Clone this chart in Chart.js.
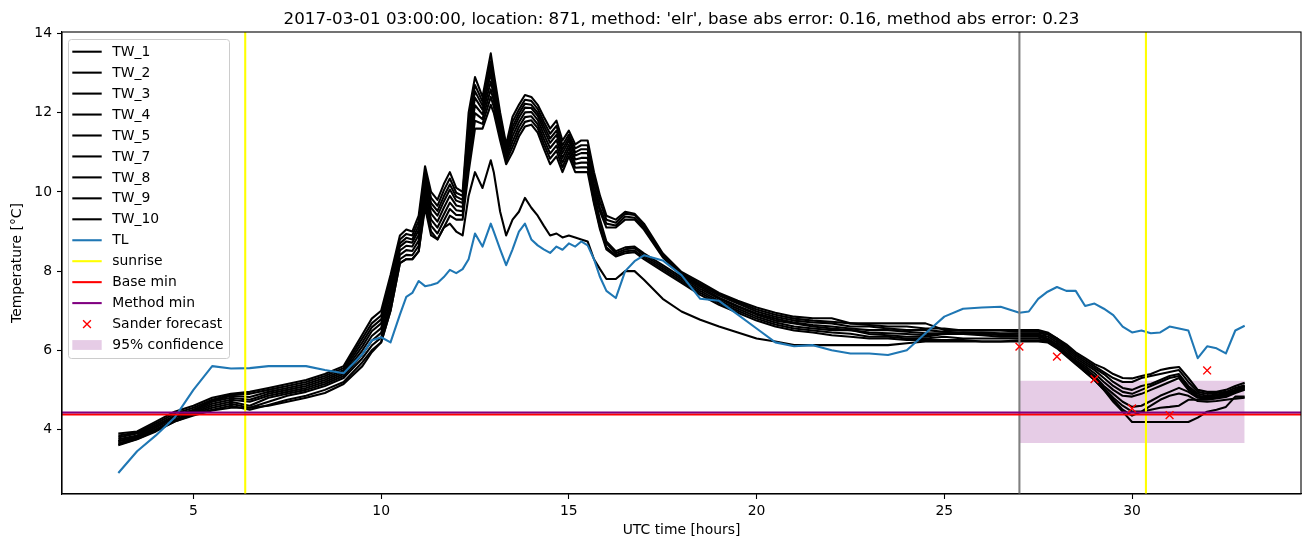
<!DOCTYPE html>
<html>
<head>
<meta charset="utf-8">
<script src="https://cdn.jsdelivr.net/npm/chart.js@4.4.1/dist/chart.umd.min.js"></script>
<style>
  html, body { margin: 0; padding: 0; background: #fff; }
  #wrap { width: 1310px; height: 547px; }
</style>
</head>
<body>
<div id="wrap"><canvas id="c" width="1310" height="547"></canvas></div>
<script>
// ---------- data ----------
const hours = [
  3, 3.5, 4, 4.5, 5, 5.5, 6, 6.5, 7, 7.5, 8, 8.5, 9, 9.5,
  9.75, 10, 10.25, 10.5, 10.67, 10.83, 11, 11.17, 11.33, 11.5, 11.67, 11.83, 12, 12.17, 12.33, 12.5, 12.7, 12.92, 13, 13.17,
  13.33, 13.5, 13.67, 13.83, 14, 14.17, 14.33, 14.5, 14.67, 14.83, 15, 15.17, 15.33, 15.5, 15.67, 15.83, 16, 16.25, 16.5, 16.75,
  17, 17.5, 18, 18.5, 19, 19.5, 20, 20.5, 21, 21.5, 22, 22.5, 23, 23.5, 24, 24.5, 25, 25.5, 26, 26.5, 27,
  27.25, 27.5, 27.75, 28, 28.25, 28.5, 28.75, 29, 29.25, 29.5, 29.75, 30, 30.25, 30.5, 30.75, 31, 31.25, 31.5, 31.75, 32, 32.25, 32.5, 32.75, 33
];

const TW_1 = [
  3.9, 3.95, 4.2, 4.45, 4.6, 4.8, 4.9, 4.95, 5.05, 5.15, 5.25, 5.4, 5.6, 6.4,
  6.8, 7.0, 7.9, 8.9, 9.05, 9.0, 9.4, 10.65, 10.0, 9.8, 10.2, 10.5, 10.1, 10.0, 12.0, 12.9, 12.4, 13.5, 13.0, 12.0,
  11.2, 11.9, 12.2, 12.45, 12.4, 12.2, 11.9, 11.6, 11.8, 11.3, 11.55, 11.2, 11.3, 11.3, 10.5, 9.9, 9.4, 9.3, 9.5, 9.45,
  9.2, 8.45, 7.98, 7.72, 7.45, 7.25, 7.08, 6.95, 6.85, 6.81, 6.81, 6.68, 6.68, 6.68, 6.68, 6.68, 6.51, 6.51, 6.51, 6.51, 6.51,
  6.51, 6.51, 6.45, 6.3, 6.15, 5.95, 5.8, 5.65, 5.55, 5.4, 5.3, 5.29, 5.35, 5.4, 5.5, 5.55, 5.58, 5.3, 5.0, 4.95, 4.95, 5.0, 5.1, 5.18
];
const TW_2 = [
  3.7, 3.82, 4.05, 4.3, 4.45, 4.65, 4.75, 4.7, 4.85, 4.95, 5.05, 5.2, 5.4, 6.0,
  6.36, 6.56, 7.41, 8.52, 8.64, 8.62, 8.91, 10.13, 9.45, 9.25, 9.6, 9.9, 9.66, 9.62, 11.18, 12.19, 11.96, 12.79, 12.45, 11.62,
  10.93, 11.41, 11.76, 12.01, 12.02, 11.82, 11.46, 11.11, 11.31, 10.86, 11.19, 10.82, 10.86, 10.86, 9.95, 9.3, 8.75, 8.5, 8.6, 8.62,
  8.45, 8.15, 7.85, 7.55, 7.3, 7.1, 6.9, 6.75, 6.68, 6.6, 6.55, 6.51, 6.45, 6.43, 6.41, 6.38, 6.43, 6.45, 6.43, 6.38, 6.38,
  6.38, 6.38, 6.3, 6.15, 5.95, 5.75, 5.6, 5.42, 5.2, 5.0, 4.85, 4.83, 4.9, 5.0, 5.1, 5.2, 5.3, 5.0, 4.82, 4.8, 4.82, 4.88, 4.98, 5.05
];
const TW_3 = [
  3.85, 3.92, 4.15, 4.4, 4.55, 4.75, 4.88, 4.9, 5.0, 5.1, 5.2, 5.35, 5.55, 6.3,
  6.68, 6.88, 7.77, 8.8, 8.94, 8.9, 9.27, 10.51, 9.85, 9.65, 10.04, 10.34, 9.98, 9.9, 11.78, 12.7, 12.28, 13.3, 12.85, 11.9,
  11.13, 11.77, 12.08, 12.33, 12.3, 12.1, 11.78, 11.47, 11.67, 11.18, 11.45, 11.1, 11.18, 11.18, 10.35, 9.75, 9.3, 9.22, 9.45, 9.42,
  9.15, 8.42, 7.95, 7.68, 7.42, 7.22, 7.03, 6.9, 6.8, 6.75, 6.72, 6.68, 6.64, 6.6, 6.6, 6.55, 6.55, 6.5, 6.5, 6.5, 6.47,
  6.47, 6.47, 6.43, 6.3, 6.1, 5.9, 5.75, 5.6, 5.45, 5.3, 5.2, 5.2, 5.3, 5.35, 5.4, 5.45, 5.5, 5.2, 4.95, 4.9, 4.92, 4.95, 5.05, 5.12
];
const TW_4 = [
  3.7, 3.8, 4.0, 4.25, 4.42, 4.6, 4.7, 4.6, 4.8, 4.9, 5.0, 5.15, 5.35, 5.9,
  6.24, 6.44, 7.27, 8.41, 8.53, 8.51, 8.77, 9.99, 9.3, 9.1, 9.43, 9.73, 9.54, 9.51, 10.95, 11.99, 11.84, 12.59, 12.3, 11.51,
  10.85, 11.27, 11.64, 11.89, 11.91, 11.71, 11.34, 10.97, 11.17, 10.74, 11.1, 10.71, 10.74, 10.74, 9.85, 9.2, 8.7, 8.45, 8.55, 8.58,
  8.4, 8.1, 7.8, 7.5, 7.25, 7.05, 6.85, 6.7, 6.6, 6.55, 6.51, 6.51, 6.41, 6.38, 6.34, 6.34, 6.41, 6.41, 6.38, 6.34, 6.34,
  6.34, 6.34, 6.28, 6.12, 5.92, 5.72, 5.55, 5.35, 5.1, 4.9, 4.7, 4.57, 4.6, 4.72, 4.85, 4.95, 5.05, 4.95, 4.8, 4.78, 4.8, 4.85, 4.95, 5.02
];
const TW_5 = [
  3.8, 3.9, 4.1, 4.35, 4.5, 4.72, 4.85, 4.82, 4.95, 5.05, 5.15, 5.3, 5.5, 6.2,
  6.58, 6.78, 7.65, 8.7, 8.84, 8.8, 9.15, 10.38, 9.72, 9.52, 9.89, 10.19, 9.88, 9.8, 11.58, 12.54, 12.18, 13.14, 12.72, 11.8,
  11.06, 11.65, 11.98, 12.23, 12.2, 12.0, 11.68, 11.35, 11.55, 11.08, 11.37, 11.0, 11.08, 11.08, 10.2, 9.6, 9.2, 9.15, 9.38, 9.35,
  9.1, 8.38, 7.92, 7.64, 7.38, 7.18, 6.98, 6.85, 6.75, 6.7, 6.68, 6.6, 6.6, 6.55, 6.51, 6.51, 6.47, 6.45, 6.45, 6.43, 6.43,
  6.43, 6.43, 6.4, 6.25, 6.05, 5.85, 5.7, 5.55, 5.4, 5.2, 5.05, 5.0, 5.1, 5.15, 5.25, 5.35, 5.4, 5.1, 4.9, 4.85, 4.88, 4.92, 5.0, 5.1
];
const TW_7 = [
  3.62, 3.76, 3.97, 4.2, 4.35, 4.48, 4.55, 4.55, 4.6, 4.7, 4.8, 4.92, 5.15, 5.6,
  5.95, 6.2, 7.0, 8.2, 8.3, 8.3, 8.5, 9.6, 8.9, 8.8, 9.1, 9.2, 9.0, 8.9, 9.9, 10.5, 10.1, 10.8, 10.5, 9.5,
  8.9, 9.3, 9.5, 9.85, 9.6, 9.4, 9.15, 8.9, 8.95, 8.85, 8.9, 8.85, 8.8, 8.75, 8.3, 8.05, 7.8, 7.8, 8.0, 8.0,
  7.78, 7.3, 6.98, 6.77, 6.6, 6.45, 6.3, 6.22, 6.13, 6.13, 6.13, 6.13, 6.13, 6.13, 6.18, 6.22, 6.22, 6.22, 6.22, 6.22, 6.22,
  6.22, 6.22, 6.2, 6.05, 5.85, 5.65, 5.45, 5.25, 5.0, 4.75, 4.5, 4.35, 4.45, 4.6, 4.75, 4.85, 4.91, 4.85, 4.72, 4.7, 4.72, 4.75, 4.78, 4.8
];
const TW_8 = [
  3.75, 3.85, 4.1, 4.32, 4.48, 4.7, 4.8, 4.75, 4.9, 5.0, 5.1, 5.25, 5.45, 6.1,
  6.48, 6.68, 7.54, 8.62, 8.75, 8.72, 9.04, 10.27, 9.6, 9.4, 9.76, 10.06, 9.78, 9.72, 11.4, 12.38, 12.08, 12.98, 12.6, 11.72,
  11.0, 11.54, 11.88, 12.13, 12.12, 11.92, 11.58, 11.24, 11.44, 10.98, 11.29, 10.92, 10.98, 10.98, 10.05, 9.5, 9.1, 9.1, 9.3, 9.3,
  9.05, 8.35, 7.88, 7.6, 7.33, 7.12, 6.93, 6.8, 6.7, 6.64, 6.6, 6.55, 6.51, 6.51, 6.47, 6.43, 6.43, 6.43, 6.4, 6.4, 6.38,
  6.4, 6.4, 6.35, 6.2, 6.0, 5.8, 5.65, 5.5, 5.3, 5.1, 4.95, 4.9, 5.0, 5.1, 5.2, 5.3, 5.35, 5.05, 4.85, 4.82, 4.85, 4.9, 5.0, 5.08
];
const TW_9 = [
  3.65, 3.78, 4.0, 4.22, 4.4, 4.55, 4.65, 4.55, 4.7, 4.85, 4.95, 5.1, 5.3, 5.8,
  6.12, 6.32, 7.14, 8.3, 8.41, 8.4, 8.64, 9.84, 9.15, 8.95, 9.27, 9.57, 9.42, 9.41, 10.73, 11.8, 11.72, 12.4, 12.15, 11.41,
  10.78, 11.14, 11.52, 11.77, 11.81, 11.61, 11.22, 10.84, 11.04, 10.62, 11.0, 10.61, 10.62, 10.62, 9.75, 9.1, 8.6, 8.4, 8.5, 8.52,
  8.35, 8.05, 7.75, 7.45, 7.2, 7.0, 6.8, 6.65, 6.55, 6.5, 6.45, 6.42, 6.34, 6.34, 6.3, 6.3, 6.34, 6.3, 6.3, 6.3, 6.3,
  6.3, 6.3, 6.25, 6.1, 5.9, 5.7, 5.5, 5.3, 5.05, 4.8, 4.6, 4.45, 4.45, 4.5, 4.55, 4.57, 4.6, 4.75, 4.75, 4.75, 4.78, 4.82, 4.92, 5.0
];
const TW_10 = [
  3.6, 3.75, 3.95, 4.2, 4.38, 4.5, 4.6, 4.5, 4.62, 4.75, 4.85, 5.0, 5.2, 5.7,
  6.0, 6.2, 7.0, 8.2, 8.3, 8.3, 8.5, 9.7, 9.0, 8.8, 9.1, 9.4, 9.3, 9.3, 10.5, 11.6, 11.6, 12.2, 12.0, 11.3,
  10.7, 11.0, 11.4, 11.65, 11.7, 11.5, 11.1, 10.7, 10.9, 10.5, 10.9, 10.5, 10.5, 10.5, 9.7, 9.05, 8.55, 8.37, 8.45, 8.48,
  8.3, 8.0, 7.7, 7.4, 7.15, 6.95, 6.75, 6.6, 6.5, 6.45, 6.38, 6.34, 6.3, 6.3, 6.26, 6.26, 6.26, 6.26, 6.22, 6.22, 6.25,
  6.25, 6.25, 6.22, 6.08, 5.88, 5.68, 5.45, 5.25, 5.0, 4.7, 4.45, 4.19, 4.19, 4.19, 4.19, 4.19, 4.19, 4.19, 4.3, 4.45, 4.5, 4.57, 4.83, 4.83
];
const TL = [
  2.9, 3.45, 3.85, 4.3, 5.0, 5.6, 5.54, 5.55, 5.6, 5.6, 5.6, 5.5, 5.42, 5.9,
  6.25, 6.33, 6.2, 6.9, 7.35, 7.45, 7.75, 7.62, 7.65, 7.7, 7.85, 8.03, 7.95, 8.05, 8.3, 8.95, 8.62, 9.2, 9.0, 8.55,
  8.15, 8.55, 9.0, 9.2, 8.8, 8.65, 8.55, 8.46, 8.62, 8.54, 8.7, 8.62, 8.75, 8.65, 8.3, 7.85, 7.5, 7.32, 8.0, 8.25,
  8.4, 8.27, 7.9, 7.3, 7.25, 6.9, 6.55, 6.2, 6.1, 6.13, 6.0, 5.92, 5.92, 5.88, 6.0, 6.43, 6.85, 7.05, 7.08, 7.1, 6.95,
  6.98, 7.3, 7.48, 7.6, 7.5, 7.5, 7.12, 7.18, 7.05, 6.89, 6.6, 6.45, 6.5, 6.43, 6.45, 6.6, 6.55, 6.5, 5.8, 6.1, 6.05, 5.92, 6.5, 6.62
];

const sanderHours = [27, 28, 29, 30, 31, 32];
const sanderForecast = [6.09, 5.84, 5.27, 4.53, 4.36, 5.49];
const sunriseHours = [6.38, 30.37];
const forecastStart = [27.0];
const baseMin = [4.38];
const methodMin = [4.43];
const confidenceHours = [27, 33];
const confidenceBounds = [3.66, 5.23];
const xTicks = [5, 10, 15, 20, 25, 30];
const yTicks = [4, 6, 8, 10, 12, 14];
const xRange = [1.5, 34.5];
const yRange = [2.37, 14.04];

const twSeries = [
  ['TW_1', TW_1], ['TW_2', TW_2], ['TW_3', TW_3], ['TW_4', TW_4], ['TW_5', TW_5],
  ['TW_7', TW_7], ['TW_8', TW_8], ['TW_9', TW_9], ['TW_10', TW_10]
];
const titleText = "2017-03-01 03:00:00, location: 871, method: 'elr', base abs error: 0.16, method abs error: 0.23";

// ---------- styles ----------
const FONT = "'DejaVu Sans', sans-serif";
const LW = 2.08;
const xy = arr => hours.map((h, i) => ({ x: h, y: arr[i] }));
const lineStyle = { pointRadius: 0, tension: 0, borderJoinStyle: 'round', borderCapStyle: 'butt' };

const datasets = [];
twSeries.forEach(([name, arr], i) => {
  datasets.push(Object.assign({
    label: name, data: xy(arr), borderColor: '#000000', borderWidth: LW,
    order: 10 + i, legendKind: 'line', legendIndex: i
  }, lineStyle));
});
datasets.push(Object.assign({
  label: 'TL', data: xy(TL), borderColor: '#1f77b4', borderWidth: LW,
  order: 9, legendKind: 'line', legendIndex: 9
}, lineStyle));
datasets.push(Object.assign({
  label: 'now', data: [{ x: forecastStart[0], y: yRange[0] }, { x: forecastStart[0], y: yRange[1] }],
  borderColor: '#808080', borderWidth: LW, order: 8
}, lineStyle));
datasets.push(Object.assign({
  label: 'sunrise',
  data: [
    { x: sunriseHours[0], y: yRange[0] }, { x: sunriseHours[0], y: yRange[1] },
    { x: (sunriseHours[0] + sunriseHours[1]) / 2, y: null },
    { x: sunriseHours[1], y: yRange[0] }, { x: sunriseHours[1], y: yRange[1] }
  ],
  borderColor: '#ffff00', borderWidth: LW, spanGaps: false, order: 7,
  legendKind: 'line', legendIndex: 10
}, lineStyle));
datasets.push(Object.assign({
  label: 'Base min', data: [{ x: xRange[0], y: baseMin[0] }, { x: xRange[1], y: baseMin[0] }],
  borderColor: '#ff0000', borderWidth: LW, order: 6, legendKind: 'line', legendIndex: 11
}, lineStyle));
datasets.push(Object.assign({
  label: 'Method min', data: [{ x: xRange[0], y: methodMin[0] }, { x: xRange[1], y: methodMin[0] }],
  borderColor: '#800080', borderWidth: LW, order: 5, legendKind: 'line', legendIndex: 12
}, lineStyle));
datasets.push({
  label: 'Sander forecast', data: sanderHours.map((h, i) => ({ x: h, y: sanderForecast[i] })),
  showLine: false, pointStyle: 'crossRot', pointRadius: 5.5, pointBorderColor: '#ff0000',
  pointBackgroundColor: '#ff0000', pointBorderWidth: 1.4, borderColor: '#ff0000', order: 1,
  legendKind: 'marker', legendIndex: 13
});
datasets.push({
  label: '95% confidence',
  data: confidenceHours.map(h => ({ x: h, y: confidenceBounds[1] })),
  fill: { value: confidenceBounds[0] }, backgroundColor: 'rgba(128,0,128,0.2)',
  borderWidth: 0, borderColor: 'rgba(0,0,0,0)', pointRadius: 0, order: 50,
  legendKind: 'patch', legendIndex: 14
});

// ---------- plugins ----------
const frameAndText = {
  id: 'frameAndText',
  afterDraw(chart) {
    const { ctx, chartArea: a } = chart;
    ctx.save();
    // spines
    ctx.strokeStyle = '#000';
    ctx.lineWidth = 1.1;
    ctx.strokeRect(a.left, a.top, a.right - a.left, a.bottom - a.top);
    // title
    ctx.fillStyle = '#000';
    ctx.font = '16.7px ' + FONT;
    ctx.textAlign = 'center';
    ctx.textBaseline = 'alphabetic';
    ctx.fillText(titleText, (a.left + a.right) / 2, 24);

    // legend
    const items = chart.data.datasets.filter(d => d.legendKind !== undefined)
      .sort((p, q) => p.legendIndex - q.legendIndex);
    const bx = 68.5, by = 39.5, bw = 161, bh = 319, r = 3;
    ctx.beginPath();
    ctx.moveTo(bx + r, by);
    ctx.lineTo(bx + bw - r, by); ctx.arcTo(bx + bw, by, bx + bw, by + r, r);
    ctx.lineTo(bx + bw, by + bh - r); ctx.arcTo(bx + bw, by + bh, bx + bw - r, by + bh, r);
    ctx.lineTo(bx + r, by + bh); ctx.arcTo(bx, by + bh, bx, by + bh - r, r);
    ctx.lineTo(bx, by + r); ctx.arcTo(bx, by, bx + r, by, r);
    ctx.closePath();
    ctx.fillStyle = 'rgba(255,255,255,0.8)';
    ctx.fill();
    ctx.strokeStyle = '#cccccc';
    ctx.lineWidth = 1;
    ctx.stroke();

    const x0 = 72.3, x1 = 101.7, tx = 112.3, y0 = 51.7, dy = 20.95;
    ctx.font = '13.9px ' + FONT;
    ctx.textAlign = 'left';
    ctx.textBaseline = 'middle';
    items.forEach((d, i) => {
      const yy = y0 + i * dy;
      if (d.legendKind === 'line') {
        ctx.strokeStyle = d.borderColor;
        ctx.lineWidth = LW;
        ctx.beginPath(); ctx.moveTo(x0, yy); ctx.lineTo(x1, yy); ctx.stroke();
      } else if (d.legendKind === 'marker') {
        const cx = (x0 + x1) / 2, s = 3.9;
        ctx.strokeStyle = d.pointBorderColor;
        ctx.lineWidth = 1.4;
        ctx.beginPath();
        ctx.moveTo(cx - s, yy - s); ctx.lineTo(cx + s, yy + s);
        ctx.moveTo(cx - s, yy + s); ctx.lineTo(cx + s, yy - s);
        ctx.stroke();
      } else if (d.legendKind === 'patch') {
        ctx.fillStyle = d.backgroundColor;
        ctx.fillRect(x0, yy - 4.9, x1 - x0, 9.8);
      }
      ctx.fillStyle = '#000';
      ctx.fillText(d.label, tx, yy + 0.5);
    });
    ctx.restore();
  }
};

Chart.defaults.color = '#000';
Chart.defaults.font.family = FONT;

new Chart(document.getElementById('c'), {
  type: 'line',
  data: { datasets },
  options: {
    responsive: false,
    animation: false,
    events: [],
    layout: { padding: { top: 32, right: 9, left: 0, bottom: 0 } },
    plugins: { legend: { display: false }, tooltip: { enabled: false }, title: { display: false } },
    scales: {
      x: {
        type: 'linear', min: xRange[0], max: xRange[1],
        afterBuildTicks: s => { s.ticks = xTicks.map(v => ({ value: v })); },
        afterFit: s => { s.height = 53; },
        ticks: { font: { size: 13.9 }, padding: 4, maxRotation: 0, autoSkip: false, color: '#000',
                 callback: v => String(v) },
        grid: { drawOnChartArea: false, drawTicks: true, tickLength: 5, color: '#000', tickWidth: 1.1 },
        border: { display: true, color: '#000', width: 1.1 },
        title: { display: true, text: 'UTC time [hours]', font: { size: 13.9 }, color: '#000',
                 padding: { top: 0, bottom: 8 } }
      },
      y: {
        type: 'linear', min: yRange[0], max: yRange[1],
        afterBuildTicks: s => { s.ticks = yTicks.map(v => ({ value: v })); },
        afterFit: s => { s.width = 62; },
        ticks: { font: { size: 13.9 }, padding: 5, autoSkip: false, color: '#000',
                 callback: v => String(v) },
        grid: { drawOnChartArea: false, drawTicks: true, tickLength: 5, color: '#000', tickWidth: 1.1 },
        border: { display: true, color: '#000', width: 1.1 },
        title: { display: true, text: 'Temperature [°C]', font: { size: 13.9 }, color: '#000',
                 padding: { top: 9, bottom: 0 } }
      }
    }
  },
  plugins: [frameAndText]
});
</script>
</body>
</html>
